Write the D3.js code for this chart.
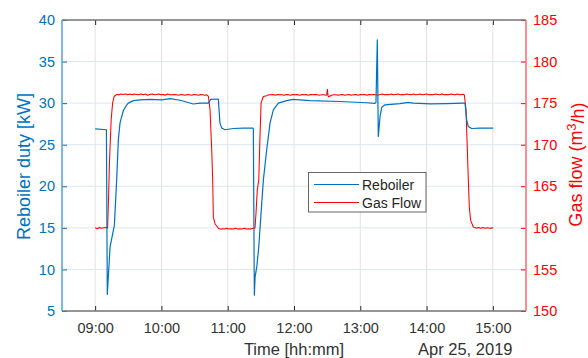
<!DOCTYPE html>
<html>
<head>
<meta charset="utf-8">
<script src="https://cdn.jsdelivr.net/npm/d3@7"></script>
<style>
  html, body { margin: 0; padding: 0; background: #fff; }
  svg { display: block; font-family: "Liberation Sans", Arial, Helvetica, sans-serif; }
</style>
</head>
<body>
<svg id="chart" width="588" height="358"></svg>
<script>
// Axis ticks
const timeTicks = ["09:00", "10:00", "11:00", "12:00", "13:00", "14:00", "15:00"];
const dutyTicks = [5, 10, 15, 20, 25, 30, 35, 40];
const flowTicks = [150, 155, 160, 165, 170, 175, 180, 185];
const seriesNames = ["Reboiler", "Gas Flow"];

// Reboiler duty [kW]
const reboilerTime = [
  "09:00:00","09:10:12","09:11:00","09:13:30","09:17:24","09:19:30","09:21:00","09:22:30",
  "09:24:06","09:25:30","09:28:36","09:30:00","09:34:36","09:40:36","09:49:42","10:00:12",
  "10:07:48","10:16:54","10:28:54","10:34:54","10:42:24","10:44:36","10:51:30","10:52:00",
  "10:53:00","10:54:36","10:57:30","11:05:06","11:14:12","11:22:42","11:23:12","11:24:06",
  "11:24:48","11:26:18","11:28:06","11:30:12","11:32:18","11:35:18","11:38:18","11:41:18",
  "11:45:48","11:53:24","11:59:24","12:14:30","12:41:42","13:05:48","13:13:18","13:14:12",
  "13:15:24","13:16:18","13:17:54","13:19:24","13:22:24","13:35:54","13:43:24","13:48:00",
  "14:03:06","14:18:12","14:33:18","14:34:48","14:36:18","14:37:42","14:40:48","14:48:18",
  "15:00:18"
];
const reboilerDuty = [
  26.9, 26.8, 7.0, 12.7, 15.3, 20.8, 25.6, 27.6,
  28.4, 29.1, 29.8, 30.0, 30.3, 30.4, 30.45, 30.4,
  30.55, 30.35, 29.9, 30.0, 30.0, 30.45, 30.5, 29.5,
  27.6, 27.0, 26.8, 26.95, 27.0, 27.0, 26.9, 6.9,
  9.1, 10.3, 12.7, 16.8, 20.8, 24.4, 27.6, 29.2,
  30.0, 30.3, 30.45, 30.3, 30.2, 30.05, 29.98, 30.1,
  37.6, 26.0, 28.4, 29.5, 29.8, 29.95, 30.1, 30.0,
  29.9, 29.95, 30.0, 30.0, 28.0, 27.2, 26.95, 27.0,
  27.0
];

// Gas flow [m3/h]
const gasTime = [
  "09:00:00","09:02:00","09:04:00","09:06:00","09:08:00","09:10:00","09:11:00","09:11:18",
  "09:12:00","09:13:00","09:14:30","09:15:48","09:17:06","09:19:30",
  "09:21:30","09:23:30","09:25:30","09:27:30","09:29:30","09:31:30","09:33:30","09:35:30",
  "09:37:30","09:39:30","09:41:30","09:43:30","09:45:30","09:47:30","09:49:30","09:51:30",
  "09:53:30","09:55:30","09:57:30","09:59:30","10:01:30","10:03:30","10:05:30","10:07:30",
  "10:09:30","10:11:30","10:13:30","10:15:30","10:17:30","10:19:30","10:21:30","10:23:30",
  "10:25:30","10:27:30","10:29:30","10:31:30","10:33:30","10:35:30","10:37:30","10:39:30",
  "10:41:00","10:42:30","10:44:00","10:45:30","10:46:24","10:47:00","10:48:30","10:51:30",
  "10:53:00","10:55:00","10:57:00","10:59:00","11:01:00","11:03:00","11:05:00","11:07:00",
  "11:09:00","11:11:00","11:13:00","11:15:00","11:17:00","11:19:00","11:21:00","11:23:12",
  "11:24:42","11:25:36","11:26:48","11:28:06","11:29:18","11:30:12","11:32:12","11:35:18",
  "11:37:00","11:39:00","11:41:00","11:43:00","11:45:00","11:47:00","11:49:00","11:51:00",
  "11:53:00","11:55:00","11:57:00","11:59:00","12:01:00","12:03:00","12:05:00","12:07:00",
  "12:09:00","12:11:00","12:13:00","12:15:00","12:17:00","12:19:00","12:21:00","12:23:00",
  "12:25:00","12:27:00","12:29:00","12:29:36","12:30:12","12:30:48","12:31:24","12:32:36",
  "12:34:00","12:36:00","12:38:00","12:40:00","12:42:00","12:44:00","12:46:00","12:48:00",
  "12:50:00","12:52:00","12:54:00","12:56:00","12:58:00","13:00:00","13:02:00","13:04:00",
  "13:06:00","13:08:00","13:10:00","13:12:00","13:14:00","13:16:00","13:18:00","13:20:00",
  "13:22:00","13:24:00","13:26:00","13:28:00","13:30:00","13:32:00","13:34:00","13:36:00",
  "13:38:00","13:40:00","13:42:00","13:44:00","13:46:00","13:48:00","13:50:00","13:52:00",
  "13:54:00","13:56:00","13:58:00","14:00:00","14:02:00","14:04:00","14:06:00","14:08:00",
  "14:10:00","14:12:00","14:14:00","14:16:00","14:18:00","14:20:00","14:22:00","14:24:00",
  "14:26:00","14:28:00","14:30:00","14:32:00","14:33:18","14:34:12","14:35:42","14:36:54",
  "14:37:48","14:38:42","14:39:54","14:42:18","14:45:24","14:47:00","14:49:00","14:51:00",
  "14:53:00","14:55:00","14:57:00","15:00:24"
];
const gasFlow = [
  160.0, 159.9, 160.05, 159.95, 160.0, 160.05, 160.0, 160.0,
  163.0, 168.0, 173.0, 175.0, 175.8, 176.05,
  176.0, 176.1, 176.05, 176.1, 176.0, 176.1, 176.0, 176.1,
  176.05, 176.0, 176.1, 176.0, 176.1, 175.95, 176.05, 176.1,
  176.0, 176.05, 176.1, 176.0, 176.05, 175.95, 176.1, 176.0,
  176.0, 176.05, 176.0, 175.95, 176.05, 176.0, 175.95, 176.05,
  176.0, 175.95, 176.05, 176.0, 175.95, 176.05, 176.0, 175.95,
  176.0, 175.8, 174.2, 169.4, 165.75, 161.3, 160.5, 159.95,
  159.85, 159.9, 159.85, 159.95, 159.85, 159.9, 159.85, 159.95,
  159.85, 159.9, 159.85, 159.95, 159.85, 159.9, 159.85, 159.95,
  159.95, 161.75, 164.6, 165.75, 171.4, 175.0, 175.8, 175.9,
  176.0, 176.0, 176.05, 175.95, 176.05, 176.0, 176.0, 175.95,
  176.05, 176.0, 175.95, 176.05, 176.0, 176.05, 175.95, 176.05,
  176.0, 176.05, 175.95, 176.05, 176.0, 176.05, 176.0, 175.95,
  176.0, 176.0, 175.95, 175.98, 176.67, 175.9, 175.75, 175.86,
  175.95, 176.0, 176.0, 175.95, 176.0, 176.05, 175.95, 176.0,
  176.05, 175.95, 176.0, 176.05, 175.95, 176.05, 176.0, 176.05,
  175.95, 176.05, 176.0, 176.05, 176.0, 175.95, 176.05, 176.1,
  176.0, 176.05, 176.0, 176.1, 176.0, 176.05, 176.1, 176.0,
  176.05, 176.0, 176.1, 176.05, 176.0, 176.1, 176.0, 176.05,
  176.1, 176.0, 176.05, 176.1, 176.0, 176.05, 176.0, 176.1,
  176.05, 176.0, 176.1, 176.0, 176.05, 176.0, 176.1, 176.05,
  176.0, 176.1, 176.0, 176.05, 176.06, 175.98, 174.2, 169.4,
  165.75, 162.5, 160.9, 160.1, 159.95, 160.05, 159.95, 160.05,
  159.95, 160.0, 159.95, 160.0
];

const parse = d3.timeParse("%H:%M:%S");
const reboiler = reboilerTime.map((t, i) => ({ t: parse(t), v: reboilerDuty[i] }));
const gas = gasTime.map((t, i) => ({ t: parse(t), v: gasFlow[i] }));

const plotLeft = 62, plotRight = 526, plotTop = 20, plotBottom = 311;
const blue = "#0072BD", red = "#FF0000", dark = "#262626";

const x = d3.scaleTime().domain([parse("08:30:00"), parse("15:30:00")]).range([plotLeft, plotRight]);
const yL = d3.scaleLinear().domain([5, 40]).range([plotBottom, plotTop]);
const yR = d3.scaleLinear().domain([150, 185]).range([plotBottom, plotTop]);
const tickDates = timeTicks.map(t => parse(t + ":00"));

const svg = d3.select("#chart");

// grid
const grid = svg.append("g");
grid.selectAll("line.v").data(tickDates).join("line").attr("class", "v")
  .attr("x1", d => x(d)).attr("x2", d => x(d)).attr("y1", plotTop).attr("y2", plotBottom)
  .attr("stroke", "#e2e2e2").attr("stroke-width", 1);
grid.selectAll("line.h").data(dutyTicks).join("line").attr("class", "h")
  .attr("x1", plotLeft).attr("x2", plotRight).attr("y1", d => yL(d)).attr("y2", d => yL(d))
  .attr("stroke", "#dde6f2").attr("stroke-width", 1);

// data lines
const lineL = d3.line().x(d => x(d.t)).y(d => yL(d.v));
const lineR = d3.line().x(d => x(d.t)).y(d => yR(d.v));
svg.append("path").datum(gas).attr("d", lineR)
  .attr("fill", "none").attr("stroke", red).attr("stroke-width", 1.05).attr("stroke-linejoin", "round");
svg.append("path").datum(reboiler).attr("d", lineL)
  .attr("fill", "none").attr("stroke", blue).attr("stroke-width", 1.2).attr("stroke-linejoin", "round");

// axes
function styleAxis(g, color, textColor) {
  g.select(".domain").remove();
  g.attr("font-family", null).attr("font-size", null);
  g.selectAll(".tick line").attr("stroke", color);
  g.selectAll(".tick text").attr("fill", textColor).style("font-size", "14.5px");
}

svg.append("g").attr("transform", `translate(0,${plotBottom})`)
  .call(d3.axisBottom(x).tickValues(tickDates).tickFormat(d3.timeFormat("%H:%M"))
    .tickSize(-5).tickSizeOuter(0).tickPadding(12))
  .call(g => styleAxis(g, dark, "#333"));

svg.append("g").attr("transform", `translate(0,${plotTop})`)
  .call(d3.axisTop(x).tickValues(tickDates).tickFormat("").tickSize(-5).tickSizeOuter(0))
  .call(g => styleAxis(g, dark, "#333"));

svg.append("g").attr("transform", `translate(${plotLeft},0)`)
  .call(d3.axisLeft(yL).tickValues(dutyTicks).tickSize(-5).tickSizeOuter(0).tickPadding(7))
  .call(g => styleAxis(g, blue, blue));

svg.append("g").attr("transform", `translate(${plotRight},0)`)
  .call(d3.axisRight(yR).tickValues(flowTicks).tickSize(-5).tickSizeOuter(0).tickPadding(7))
  .call(g => styleAxis(g, red, red));

// frame
svg.append("line").attr("x1", plotLeft).attr("x2", plotRight).attr("y1", plotTop).attr("y2", plotTop)
  .attr("stroke", "#777").attr("stroke-width", 1.3);
svg.append("line").attr("x1", plotLeft).attr("x2", plotRight).attr("y1", plotBottom).attr("y2", plotBottom)
  .attr("stroke", "#777").attr("stroke-width", 1.3);
svg.append("line").attr("x1", plotLeft).attr("x2", plotLeft).attr("y1", plotTop).attr("y2", plotBottom)
  .attr("stroke", "#4fa3dc").attr("stroke-width", 1.5);
svg.append("line").attr("x1", plotRight).attr("x2", plotRight).attr("y1", plotTop).attr("y2", plotBottom)
  .attr("stroke", "#ff6a6a").attr("stroke-width", 1.5);

// axis titles
svg.append("text").attr("transform", `translate(29.5,${(plotTop + plotBottom) / 2 + 1}) rotate(-90)`)
  .attr("text-anchor", "middle").attr("fill", blue).style("font-size", "18px")
  .text("Reboiler duty [kW]");

const rt = svg.append("text").attr("transform", `translate(581.5,${(plotTop + plotBottom) / 2 - 1}) rotate(-90)`)
  .attr("text-anchor", "middle").attr("fill", red).style("font-size", "18px");
rt.append("tspan").text("Gas flow (m");
rt.append("tspan").attr("dy", "-0.45em").style("font-size", "13px").text("3");
rt.append("tspan").attr("dy", "0.45em").text("/h)");

svg.append("text").attr("x", (plotLeft + plotRight) / 2).attr("y", 354.5)
  .attr("text-anchor", "middle").attr("fill", "#333").style("font-size", "16.5px")
  .text("Time [hh:mm]");
svg.append("text").attr("x", 512.5).attr("y", 354.5)
  .attr("text-anchor", "end").attr("fill", "#333").style("font-size", "16.5px")
  .text("Apr 25, 2019");

// legend
const lg = svg.append("g");
lg.append("rect").attr("x", 308.5).attr("y", 172.5).attr("width", 117.5).attr("height", 39.5)
  .attr("fill", "#fff").attr("stroke", "#666").attr("stroke-width", 1);
const legendColors = [blue, red];
const legendY = [184.5, 202.5];
seriesNames.forEach((name, i) => {
  lg.append("line").attr("x1", 314).attr("x2", 359).attr("y1", legendY[i]).attr("y2", legendY[i])
    .attr("stroke", legendColors[i]).attr("stroke-width", 1.1);
  lg.append("text").attr("x", 362).attr("y", legendY[i] + 5.5)
    .attr("fill", "#262626").style("font-size", "14px").text(name);
});
</script>
</body>
</html>
